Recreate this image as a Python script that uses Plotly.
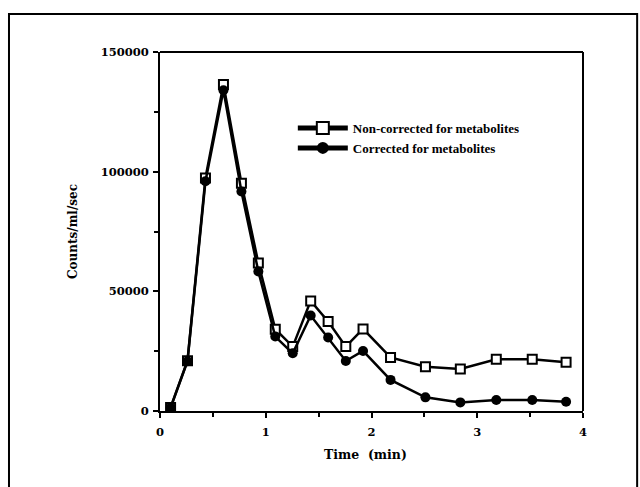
import plotly.graph_objects as go

time_min = [0.10, 0.26, 0.43, 0.60, 0.77, 0.93, 1.09, 1.255, 1.425, 1.59, 1.757, 1.92, 2.18, 2.51, 2.84, 3.18, 3.52, 3.84]
non_corrected = [1500, 21000, 97400, 136400, 95200, 61800, 34200, 26900, 46000, 37400, 26900, 34300, 22400, 18500, 17600, 21600, 21600, 20400]
corrected = [1300, 20800, 96000, 134000, 91700, 58300, 31100, 24100, 39900, 30700, 20900, 25100, 13000, 5700, 3600, 4600, 4600, 3900]

x_ticks = [0, 1, 2, 3, 4]
y_ticks = [0, 50000, 100000, 150000]

serif = "Liberation Serif, Times New Roman, serif"
wide_serif = "DejaVu Serif, serif"

fig = go.Figure()
fig.add_trace(go.Scatter(
    x=time_min, y=non_corrected, mode="lines+markers",
    name="<b>Non-corrected for metabolites</b>",
    line=dict(color="black", width=2.5),
    marker=dict(symbol="square", size=9, color="white", line=dict(color="black", width=2)),
))
fig.add_trace(go.Scatter(
    x=time_min, y=corrected, mode="lines+markers",
    name="<b>Corrected for metabolites</b>",
    line=dict(color="black", width=2.5),
    marker=dict(symbol="circle", size=10, color="black"),
))

axis_common = dict(
    showgrid=False, zeroline=False, showline=True, linecolor="black", linewidth=2,
    ticks="outside", ticklen=5, tickwidth=2, tickcolor="black", mirror=False,
    tickfont=dict(family=wide_serif, size=11.5, color="black"),
)

fig.update_xaxes(
    range=[0, 4], tickvals=x_ticks, ticktext=[f"<b>{v}</b>" for v in x_ticks],
    ticklabelstandoff=4,
    minor=dict(dtick=0.5, ticks="outside", ticklen=4, tickwidth=2, tickcolor="black"),
    **axis_common,
)
fig.update_yaxes(
    range=[0, 150000], tickvals=y_ticks, ticktext=[f"<b>{v}</b>" for v in y_ticks],
    ticklabelstandoff=2,
    minor=dict(dtick=25000, ticks="outside", ticklen=4, tickwidth=2, tickcolor="black"),
    title=dict(text="<b>Counts/ml/sec</b>", font=dict(family=wide_serif, size=12, color="black"), standoff=20),
    **axis_common,
)

# x-axis title placed as annotation for exact position
fig.add_annotation(text="<b>Time  (min)</b>", xref="paper", yref="paper", x=0.485, y=-0.12,
                   xanchor="center", yanchor="middle", showarrow=False,
                   font=dict(family=wide_serif, size=12.5, color="black"))

# plot box (top and right lines)
fig.add_shape(type="line", xref="paper", yref="paper", x0=0, x1=1, y0=1, y1=1, line=dict(color="black", width=2))
fig.add_shape(type="line", xref="paper", yref="paper", x0=1, x1=1, y0=0, y1=1, line=dict(color="black", width=2))
# outer frame
fig.add_shape(type="rect", xref="paper", yref="paper", x0=-0.357, x1=1.128, y0=-0.3, y1=1.106,
              line=dict(color="black", width=2), layer="below")

fig.update_layout(
    width=640, height=487,
    margin=dict(l=160, r=57, t=52, b=76),
    paper_bgcolor="white", plot_bgcolor="white",
    font=dict(family=serif, size=13, color="black"),
    showlegend=True,
    legend=dict(x=0.314, y=0.83, xanchor="left", yanchor="top", bgcolor="rgba(0,0,0,0)",
                font=dict(family=serif, size=13, color="black"), tracegroupgap=0,
                itemwidth=50, itemsizing="constant"),
)

fig.write_html("out.html")
